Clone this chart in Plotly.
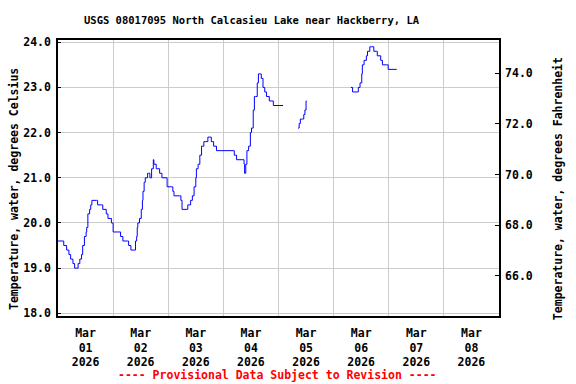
import plotly.graph_objects as go

# Water temperature (deg C), USGS 08017095; None marks data gaps
times = [
    "2026-03-01 00:00", "2026-03-01 02:30", "2026-03-01 03:45", "2026-03-01 04:45", "2026-03-01 05:30",
    "2026-03-01 06:30", "2026-03-01 07:15", "2026-03-01 08:00", "2026-03-01 08:45", "2026-03-01 09:30",
    "2026-03-01 10:15", "2026-03-01 10:45", "2026-03-01 11:30", "2026-03-01 12:15", "2026-03-01 12:30",
    "2026-03-01 13:00", "2026-03-01 13:45", "2026-03-01 14:15", "2026-03-01 14:45", "2026-03-01 16:45",
    "2026-03-01 17:15", "2026-03-01 19:00", "2026-03-01 19:30", "2026-03-01 21:00", "2026-03-01 21:45",
    "2026-03-01 23:15", "2026-03-02 00:00", "2026-03-02 02:30", "2026-03-02 03:15", "2026-03-02 04:15",
    "2026-03-02 06:15", "2026-03-02 06:45", "2026-03-02 07:45", "2026-03-02 09:00", "2026-03-02 09:45",
    "2026-03-02 10:15", "2026-03-02 10:30", "2026-03-02 10:45", "2026-03-02 11:30", "2026-03-02 12:15",
    "2026-03-02 12:45", "2026-03-02 13:00", "2026-03-02 13:30", "2026-03-02 14:00", "2026-03-02 15:00",
    "2026-03-02 15:30", "2026-03-02 16:00", "2026-03-02 16:45", "2026-03-02 17:30", "2026-03-02 17:45",
    "2026-03-02 18:45", "2026-03-02 19:30", "2026-03-02 20:15", "2026-03-02 21:15", "2026-03-02 23:15",
    "2026-03-02 23:30", "2026-03-03 01:30", "2026-03-03 02:00", "2026-03-03 02:30", "2026-03-03 05:00",
    "2026-03-03 05:30", "2026-03-03 06:00", "2026-03-03 08:15", "2026-03-03 08:30", "2026-03-03 09:45",
    "2026-03-03 10:30", "2026-03-03 11:15", "2026-03-03 12:00", "2026-03-03 12:15", "2026-03-03 13:00",
    "2026-03-03 13:45", "2026-03-03 14:30", "2026-03-03 15:30", "2026-03-03 16:15", "2026-03-03 17:15",
    "2026-03-03 18:15", "2026-03-03 18:45", "2026-03-03 19:45", "2026-03-03 21:00", "2026-03-04 04:15",
    "2026-03-04 04:45", "2026-03-04 05:45", "2026-03-04 08:30", "2026-03-04 09:00", "2026-03-04 09:15",
    "2026-03-04 09:45", "2026-03-04 10:15", "2026-03-04 11:00", "2026-03-04 11:45", "2026-03-04 12:15",
    "2026-03-04 13:00", "2026-03-04 13:30", "2026-03-04 14:00", "2026-03-04 14:45", "2026-03-04 15:15",
    "2026-03-04 16:15", "2026-03-04 16:30", "2026-03-04 17:15", "2026-03-04 18:00", "2026-03-04 18:45",
    "2026-03-04 20:00", "2026-03-04 21:45", "2026-03-05 02:00",
    "2026-03-05 05:00",
    "2026-03-05 08:30", "2026-03-05 09:00", "2026-03-05 09:30", "2026-03-05 10:30", "2026-03-05 11:00",
    "2026-03-05 11:30", "2026-03-05 12:00", "2026-03-05 12:15",
    "2026-03-05 20:00",
    "2026-03-06 07:30", "2026-03-06 08:15", "2026-03-06 10:15", "2026-03-06 10:45", "2026-03-06 11:30",
    "2026-03-06 12:15", "2026-03-06 12:30", "2026-03-06 13:15", "2026-03-06 14:15", "2026-03-06 14:45",
    "2026-03-06 15:45", "2026-03-06 16:30", "2026-03-06 17:15", "2026-03-06 17:30", "2026-03-06 18:45",
    "2026-03-06 19:00", "2026-03-06 20:30", "2026-03-06 21:15", "2026-03-06 23:00", "2026-03-06 23:45",
    "2026-03-07 03:30",
]
temp_c = [
    19.6, 19.5, 19.4, 19.3, 19.2,
    19.1, 19.0, 19.0, 19.1, 19.2,
    19.3, 19.5, 19.7, 19.8, 19.9,
    20.2, 20.3, 20.4, 20.5, 20.5,
    20.4, 20.4, 20.3, 20.2, 20.1,
    20.0, 19.8, 19.8, 19.7, 19.6,
    19.6, 19.5, 19.4, 19.4, 19.6,
    19.7, 19.9, 20.0, 20.1, 20.3,
    20.5, 20.7, 20.9, 21.0, 21.1,
    21.1, 21.0, 21.2, 21.4, 21.3,
    21.2, 21.2, 21.1, 21.0, 21.0,
    20.8, 20.8, 20.7, 20.6, 20.6,
    20.5, 20.3, 20.3, 20.4, 20.5,
    20.6, 20.8, 21.0, 21.2, 21.3,
    21.5, 21.7, 21.8, 21.8, 21.9,
    21.9, 21.8, 21.7, 21.6, 21.6,
    21.5, 21.4, 21.4, 21.3, 21.1,
    21.3, 21.6, 21.7, 22.0, 22.1,
    22.5, 22.8, 22.8, 23.1, 23.3,
    23.3, 23.2, 23.0, 22.9, 22.8,
    22.7, 22.6, 22.6,
    None,
    22.1, 22.2, 22.3, 22.3, 22.4,
    22.5, 22.7, 22.7,
    None,
    23.0, 22.9, 22.9, 23.0, 23.1,
    23.3, 23.5, 23.6, 23.7, 23.8,
    23.9, 23.9, 23.9, 23.8, 23.8,
    23.7, 23.6, 23.5, 23.5, 23.4,
    23.4,
]

# Axis ticks
x_tick_vals = ["2026-03-01 12:00", "2026-03-02 12:00", "2026-03-03 12:00", "2026-03-04 12:00",
               "2026-03-05 12:00", "2026-03-06 12:00", "2026-03-07 12:00", "2026-03-08 12:00"]
x_tick_text = ["Mar<br>01<br>2026", "Mar<br>02<br>2026", "Mar<br>03<br>2026", "Mar<br>04<br>2026",
               "Mar<br>05<br>2026", "Mar<br>06<br>2026", "Mar<br>07<br>2026", "Mar<br>08<br>2026"]
c_ticks = [18.0, 19.0, 20.0, 21.0, 22.0, 23.0, 24.0]
f_ticks = [66.0, 68.0, 70.0, 72.0, 74.0]

FONT = "DejaVu Sans Mono"
BLUE = "#0000ff"
GRID = "#cccccc"

fig = go.Figure()
fig.add_trace(go.Scatter(
    x=times, y=temp_c, mode="lines", line=dict(color=BLUE, width=1, shape="hv"),
    connectgaps=False, showlegend=False, hoverinfo="x+y",
))
# invisible trace to activate the Fahrenheit axis
fig.add_trace(go.Scatter(x=[times[0]], y=[f_ticks[0]], yaxis="y2", mode="markers",
                         marker=dict(opacity=0), showlegend=False, hoverinfo="skip"))

tick_font = dict(family=FONT, size=11.5, color="black", weight="bold")
label_font = dict(family=FONT, size=11.5, color="black", weight="bold")

fig.update_layout(
    width=576, height=384,
    margin=dict(l=58, r=77, t=40, b=68, autoexpand=False),
    paper_bgcolor="white", plot_bgcolor="white",
    font=dict(family=FONT, color="black"),
    xaxis=dict(
        range=["2026-03-01 00:00", "2026-03-09 00:00"],
        tickmode="array", tickvals=x_tick_vals, ticktext=x_tick_text,
        showgrid=False, ticks="", tickfont=tick_font, automargin=False,
        ticklabelstandoff=5,
        showline=True, linecolor="black", linewidth=1.5, mirror=True,
        minor=dict(dtick=86400000, tick0="2026-03-01 00:00", showgrid=True,
                   gridcolor=GRID, gridwidth=1, ticks=""),
        zeroline=False,
    ),
    yaxis=dict(
        range=[17.94, 24.05], tickmode="array", tickvals=c_ticks,
        tickformat=".1f", tickfont=tick_font, automargin=False,
        ticklabelstandoff=3,
        showgrid=True, gridcolor=GRID, gridwidth=1,
        showline=True, linecolor="black", linewidth=1.5,
        ticks="inside", ticklen=3, tickcolor="black",
        zeroline=False,
    ),
    yaxis2=dict(
        overlaying="y", side="right",
        range=[64.42, 75.31], tickmode="array", tickvals=f_ticks,
        tickformat=".1f", tickfont=tick_font, automargin=False,
        ticklabelstandoff=2,
        showgrid=False, showline=True, linecolor="black", linewidth=1.5,
        ticks="inside", ticklen=4, tickcolor="black",
        zeroline=False,
    ),
    annotations=[
        dict(text="USGS 08017095 North Calcasieu Lake near Hackberry, LA",
             xref="paper", yref="paper", x=0.44, y=1, yshift=20,
             xanchor="center", yanchor="middle", showarrow=False,
             font=dict(family=FONT, size=10.5, color="black", weight="bold")),
        dict(text="Temperature, water, degrees Celsius",
             xref="paper", yref="paper", x=-0.0998, y=0.46,
             xanchor="center", yanchor="middle", textangle=-90, showarrow=False,
             font=label_font),
        dict(text="Temperature, water, degrees Fahrenheit",
             xref="paper", yref="paper", x=1.134, y=0.46,
             xanchor="center", yanchor="middle", textangle=-90, showarrow=False,
             font=label_font),
        dict(text="---- Provisional Data Subject to Revision ----",
             xref="paper", yref="paper", x=0.497, y=0, yshift=-59,
             xanchor="center", yanchor="middle", showarrow=False,
             font=dict(family=FONT, size=11.5, color="red", weight="bold")),
    ],
)

fig.write_html("out.html", config={"displayModeBar": False},
               post_script="document.body.style.margin='0';")
